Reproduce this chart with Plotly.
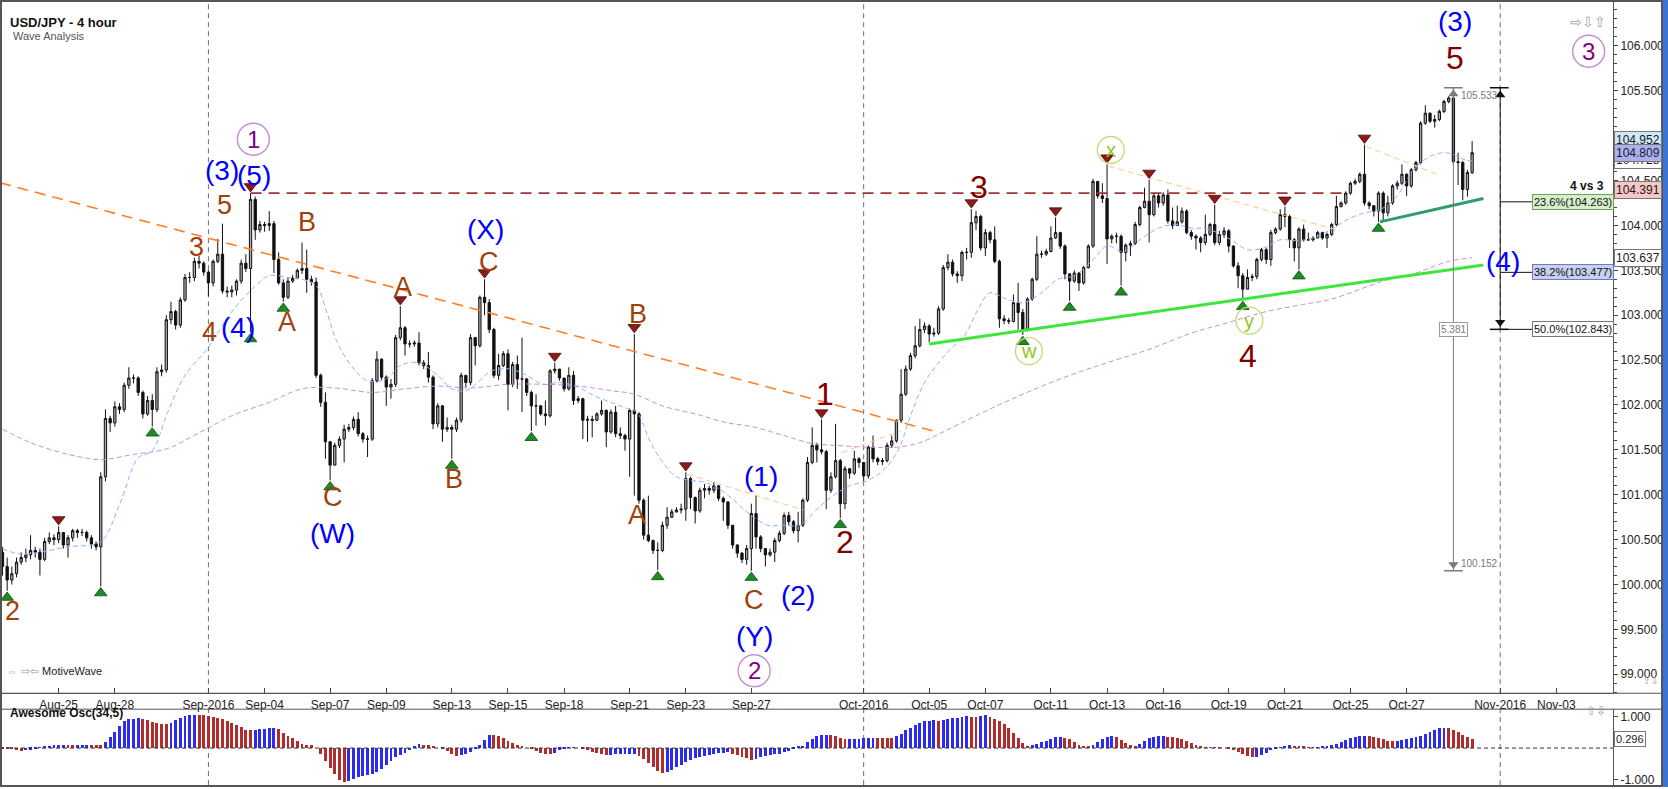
import numpy as np
import plotly.graph_objects as go

# ---------------- Daten (aus dem Chart abgelesen) ----------------
# 4h-Kerzen USD/JPY, Index 0 = 23. Aug 2016, Open = Close der Vorkerze
first_open = 100.36
close = [
    100.20, 100.05, 100.12, 100.25, 100.30, 100.33, 100.38, 100.36, 100.28, 100.48,
    100.52, 100.50, 100.58, 100.44, 100.52, 100.60, 100.58, 100.58, 100.52, 100.45,
    100.42, 101.20, 101.85, 101.80, 101.98, 101.95, 102.22, 102.30, 102.30, 102.14,
    101.90, 102.05, 101.95, 102.37, 102.39, 102.95, 103.04, 102.89, 103.17, 103.42,
    103.42, 103.60, 103.58, 103.48, 103.36, 103.60, 103.68, 103.27, 103.26, 103.28,
    103.38, 103.58, 103.52, 104.29, 103.95, 104.01, 104.00, 104.02, 103.62, 103.36,
    103.20, 103.38, 103.41, 103.50, 103.52, 103.40, 103.37, 102.33, 102.03, 101.59,
    101.33, 101.55, 101.62, 101.73, 101.75, 101.84, 101.68, 101.62, 101.62, 102.27,
    102.51, 102.31, 102.20, 102.23, 102.75, 102.86, 102.68, 102.68, 102.69, 102.47,
    102.44, 102.31, 101.79, 101.99, 101.73, 101.75, 101.73, 101.83, 102.33, 102.25,
    102.75, 102.66, 103.20, 103.14, 102.84, 102.33, 102.44, 102.57, 102.23, 102.45,
    102.29, 102.29, 102.14, 101.99, 101.99, 101.90, 101.88, 102.38, 102.40, 102.30,
    102.18, 102.33, 102.05, 102.07, 101.83, 101.84, 101.83, 101.90, 101.94, 101.70,
    101.92, 101.68, 101.66, 101.62, 101.94, 101.90, 100.94, 100.55, 100.49, 100.38,
    100.38, 100.66, 100.75, 100.81, 100.83, 100.84, 101.18, 100.97, 100.82, 101.05,
    101.07, 101.05, 101.10, 100.96, 100.92, 100.66, 100.44, 100.35, 100.28, 100.40,
    100.79, 100.53, 100.40, 100.33, 100.36, 100.49, 100.57, 100.77, 100.70, 100.60,
    100.66, 100.94, 101.36, 101.55, 101.50, 101.48, 101.05, 101.20, 101.38, 100.90,
    101.29, 101.24, 101.40, 101.36, 101.21, 101.53, 101.40, 101.37, 101.38, 101.55,
    101.60, 101.83, 102.12, 102.40, 102.55, 102.66, 102.84, 102.88, 102.79, 102.80,
    103.07, 103.53, 103.59, 103.46, 103.44, 103.70, 103.70, 104.03, 104.10, 103.75,
    103.92, 103.84, 103.60, 102.96, 102.94, 102.93, 103.14, 103.03, 102.84, 103.18,
    103.40, 103.68, 103.68, 103.71, 103.86, 103.92, 103.77, 103.46, 103.38, 103.47,
    103.36, 103.53, 103.77, 104.49, 104.33, 104.30, 103.85, 103.88, 103.88, 103.70,
    103.78, 103.80, 104.01, 104.20, 104.27, 104.12, 104.33, 104.25, 104.34, 104.05,
    104.00, 104.04, 104.16, 103.92, 103.88, 103.86, 103.81, 103.90, 104.01, 103.81,
    103.90, 103.94, 103.77, 103.55, 103.44, 103.29, 103.42, 103.43, 103.62, 103.73,
    103.62, 103.92, 103.96, 104.12, 104.10, 103.84, 103.75, 103.96, 103.84, 103.84,
    103.86, 103.92, 103.86, 103.90, 104.01, 104.21, 104.25, 104.36, 104.47, 104.49,
    104.57, 104.25, 104.22, 104.16, 104.36, 104.14, 104.25, 104.44, 104.47, 104.57,
    104.44, 104.62, 104.70, 105.14, 105.25, 105.16, 105.18, 105.27, 105.38, 105.42,
    104.71, 104.70, 104.40, 104.59, 104.81,
]
high = [
    100.42, 100.30, 100.20, 100.30, 100.36, 100.40, 100.55, 100.42, 100.40, 100.52,
    100.58, 100.56, 100.65, 100.58, 100.55, 100.62, 100.62, 100.62, 100.60, 100.55,
    100.48, 101.25, 101.95, 101.88, 102.04, 102.02, 102.25, 102.42, 102.34, 102.32,
    102.16, 102.10, 102.12, 102.42, 102.45, 103.00, 103.15, 103.06, 103.20, 103.46,
    103.48, 103.64, 103.66, 103.60, 103.50, 103.62, 103.85, 104.02, 103.32, 103.33,
    103.40, 103.62, 103.68, 104.36, 104.32, 104.05, 104.04, 104.16, 104.05, 103.70,
    103.40, 103.42, 103.45, 103.52, 103.81, 103.73, 103.44, 103.42, 102.35, 102.14,
    101.60, 101.58, 101.65, 101.78, 101.79, 101.87, 101.92, 101.70, 101.66, 102.30,
    102.60, 102.52, 102.33, 102.29, 102.78, 103.10, 102.88, 102.72, 102.72, 102.81,
    102.50, 102.59, 102.33, 102.02, 102.00, 101.86, 101.78, 101.86, 102.36, 102.33,
    102.79, 102.76, 103.22, 103.40, 103.18, 102.86, 102.57, 102.60, 102.62, 102.48,
    102.55, 102.75, 102.30, 102.16, 102.12, 102.00, 102.05, 102.40, 102.47, 102.40,
    102.30, 102.42, 102.38, 102.10, 102.08, 101.88, 101.88, 101.92, 102.05, 101.95,
    101.95, 101.99, 101.75, 101.68, 101.96, 102.79, 101.92, 100.96, 100.99, 100.50,
    100.47, 100.70, 100.86, 100.84, 100.86, 100.90, 101.25, 101.20, 100.98, 101.08,
    101.12, 101.10, 101.14, 101.10, 100.98, 100.93, 100.66, 100.45, 100.36, 100.44,
    100.90, 100.99, 100.55, 100.40, 100.40, 100.52, 100.60, 100.80, 100.81, 100.72,
    100.81, 100.96, 101.42, 101.75, 101.58, 101.84, 101.50, 101.25, 101.79, 101.40,
    101.32, 101.30, 101.49, 101.42, 101.36, 101.55, 101.66, 101.42, 101.41, 101.58,
    101.66, 101.84, 102.40, 102.44, 102.58, 102.88, 102.96, 102.92, 102.90, 102.86,
    103.10, 103.56, 103.68, 103.62, 103.49, 103.72, 103.75, 104.18, 104.16, 104.12,
    103.96, 103.94, 103.99, 103.62, 103.00, 102.97, 103.23, 103.36, 103.07, 103.20,
    103.42, 103.88, 103.72, 103.74, 103.99, 104.09, 103.93, 103.79, 103.47, 103.50,
    103.48, 103.55, 103.79, 104.52, 104.49, 104.47, 104.68, 103.90, 103.92, 103.90,
    103.80, 103.83, 104.04, 104.22, 104.42, 104.51, 104.36, 104.35, 104.37, 104.40,
    104.20, 104.22, 104.20, 104.18, 103.95, 103.90, 103.88, 104.12, 104.03, 104.23,
    103.94, 103.98, 103.96, 103.78, 103.59, 103.47, 103.51, 103.46, 103.64, 103.75,
    103.75, 103.95, 103.98, 104.18, 104.21, 104.12, 103.86, 103.98, 104.01, 103.92,
    103.88, 103.94, 103.93, 103.92, 104.03, 104.33, 104.27, 104.38, 104.49, 104.52,
    104.59, 104.90, 104.27, 104.22, 104.38, 104.38, 104.33, 104.46, 104.50, 104.68,
    104.58, 104.64, 104.72, 105.16, 105.34, 105.26, 105.23, 105.29, 105.40, 105.44,
    105.533, 104.81, 104.72, 104.62, 104.94,
]
low = [
    100.10, 99.93, 100.00, 100.08, 100.22, 100.25, 100.28, 100.30, 100.10, 100.26,
    100.45, 100.44, 100.46, 100.40, 100.30, 100.48, 100.52, 100.54, 100.48, 100.40,
    100.38, 99.98, 101.15, 101.70, 101.76, 101.90, 101.92, 102.18, 102.24, 102.10,
    101.85, 101.88, 101.76, 101.92, 102.32, 102.36, 102.90, 102.84, 102.86, 103.15,
    103.36, 103.38, 103.52, 103.44, 103.21, 103.32, 103.58, 103.24, 103.20, 103.20,
    103.22, 103.35, 103.48, 102.81, 103.84, 103.92, 103.93, 103.94, 103.47, 103.34,
    103.15, 103.18, 103.36, 103.40, 103.46, 103.25, 103.33, 102.30, 101.98, 101.40,
    101.16, 101.33, 101.52, 101.36, 101.70, 101.72, 101.65, 101.58, 101.42, 101.60,
    102.25, 102.28, 101.99, 102.07, 102.20, 102.72, 102.55, 102.64, 102.65, 102.44,
    102.40, 102.25, 101.73, 101.75, 101.59, 101.70, 101.40, 101.70, 101.80, 102.20,
    102.22, 102.44, 102.64, 103.00, 102.80, 102.30, 102.28, 102.42, 101.94, 102.20,
    102.18, 101.92, 102.10, 101.71, 101.77, 101.88, 101.77, 101.86, 102.35, 102.27,
    102.15, 102.16, 102.00, 102.02, 101.62, 101.59, 101.64, 101.82, 101.88, 101.53,
    101.68, 101.64, 101.62, 101.49, 101.20, 100.99, 100.90, 100.50, 100.47, 100.34,
    100.16, 100.36, 100.62, 100.74, 100.80, 100.79, 100.71, 100.84, 100.68, 100.80,
    100.96, 101.00, 101.02, 100.93, 100.71, 100.62, 100.40, 100.30, 100.24, 100.22,
    100.152, 100.40, 100.36, 100.20, 100.31, 100.25, 100.47, 100.55, 100.66, 100.57,
    100.47, 100.64, 100.92, 101.34, 101.36, 101.45, 100.84, 101.02, 101.18, 100.74,
    100.84, 101.18, 101.22, 101.30, 101.15, 101.18, 101.36, 101.33, 101.33, 101.36,
    101.52, 101.58, 101.80, 102.10, 102.38, 102.52, 102.64, 102.80, 102.70, 102.76,
    102.78, 103.05, 103.50, 103.43, 103.36, 103.38, 103.62, 103.64, 103.95, 103.72,
    103.66, 103.80, 103.58, 102.86, 102.90, 102.90, 102.92, 102.84, 102.78, 102.82,
    103.16, 103.38, 103.64, 103.66, 103.70, 103.85, 103.74, 103.40, 103.16, 103.36,
    103.27, 103.34, 103.52, 103.75, 104.30, 104.25, 103.57, 103.80, 103.80, 103.33,
    103.60, 103.66, 103.78, 103.99, 104.19, 103.81, 104.10, 104.20, 104.22, 104.02,
    103.96, 104.00, 104.02, 103.90, 103.84, 103.73, 103.70, 103.78, 103.88, 103.78,
    103.78, 103.86, 103.70, 103.53, 103.30, 103.17, 103.29, 103.38, 103.40, 103.60,
    103.57, 103.55, 103.90, 103.94, 103.98, 103.75, 103.60, 103.51, 103.82, 103.83,
    103.82, 103.86, 103.84, 103.75, 103.88, 103.99, 104.20, 104.23, 104.34, 104.45,
    104.47, 104.22, 104.18, 104.10, 104.04, 104.05, 104.10, 104.23, 104.40, 104.45,
    104.33, 104.42, 104.60, 104.68, 105.12, 105.14, 105.09, 105.16, 105.25, 105.36,
    104.68, 104.45, 104.28, 104.32, 104.57,
]

# Awesome Oscillator (34,5), Balkenwerte
ao = [
    -0.02, -0.03, -0.05, -0.07, -0.09, -0.08, -0.06, -0.02, 0.01, 0.04,
    0.07, 0.08, 0.09, 0.10, 0.098, 0.096, 0.10, 0.102, 0.104, 0.10,
    0.098, 0.096, 0.20, 0.35, 0.50, 0.68, 0.84, 0.90, 0.92, 0.93,
    0.91, 0.88, 0.82, 0.78, 0.76, 0.74, 0.79, 0.87, 0.95, 1.00,
    1.03, 1.05, 1.045, 1.03, 1.02, 0.99, 0.95, 0.90, 0.84, 0.79,
    0.73, 0.66, 0.58, 0.55, 0.58, 0.60, 0.61, 0.62, 0.64, 0.60,
    0.48, 0.38, 0.30, 0.22, 0.12, 0.10, 0.08, 0.00, -0.20, -0.42,
    -0.63, -0.84, -1.02, -1.07, -1.05, -1.00, -0.93, -0.88, -0.86, -0.84,
    -0.76, -0.66, -0.55, -0.43, -0.30, -0.22, -0.15, -0.08, 0.04, 0.11,
    0.10, 0.08, 0.04, 0.00, -0.05, -0.10, -0.18, -0.25, -0.23, -0.19,
    -0.12, -0.05, 0.10, 0.24, 0.41, 0.40, 0.37, 0.31, 0.23, 0.14,
    0.08, 0.03, 0.00, -0.05, -0.10, -0.16, -0.19, -0.21, -0.15, -0.06,
    -0.02, 0.01, 0.02, 0.00, -0.02, -0.06, -0.12, -0.17, -0.20, -0.22,
    -0.215, -0.21, -0.205, -0.20, -0.195, -0.19, -0.25, -0.36, -0.48, -0.60,
    -0.72, -0.80, -0.76, -0.70, -0.62, -0.54, -0.46, -0.39, -0.33, -0.29,
    -0.25, -0.22, -0.19, -0.17, -0.15, -0.14, -0.18, -0.24, -0.29, -0.33,
    -0.37, -0.34, -0.30, -0.27, -0.24, -0.21, -0.18, -0.14, -0.09, -0.04,
    0.03, 0.07, 0.17, 0.28, 0.37, 0.41, 0.42, 0.40, 0.36, 0.32,
    0.27, 0.275, 0.28, 0.285, 0.30, 0.31, 0.32, 0.315, 0.31, 0.305,
    0.30, 0.36, 0.45, 0.55, 0.64, 0.72, 0.79, 0.84, 0.86, 0.87,
    0.86, 0.89, 0.92, 0.94, 0.96, 0.98, 1.00, 0.99, 0.98, 1.01,
    1.03, 0.98, 0.92, 0.84, 0.74, 0.62, 0.48, 0.32, 0.15, 0.06,
    0.08, 0.12, 0.17, 0.23, 0.29, 0.34, 0.345, 0.32, 0.27, 0.20,
    0.10, 0.05, 0.04, 0.10, 0.20, 0.29, 0.35, 0.37, 0.33, 0.25,
    0.15, 0.08, 0.07, 0.12, 0.22, 0.30, 0.35, 0.37, 0.38, 0.35,
    0.33, 0.32, 0.29, 0.22, 0.16, 0.09, 0.04, 0.02, 0.01, 0.02,
    0.01, 0.00, -0.03, -0.08, -0.14, -0.20, -0.25, -0.30, -0.28, -0.22,
    -0.15, -0.08, -0.03, 0.02, 0.06, 0.08, 0.07, 0.05, 0.03, 0.01,
    0.01, 0.02, 0.03, 0.05, 0.08, 0.12, 0.18, 0.25, 0.31, 0.35,
    0.38, 0.39, 0.37, 0.33, 0.30, 0.27, 0.23, 0.21, 0.22, 0.25,
    0.27, 0.30, 0.33, 0.38, 0.44, 0.50, 0.57, 0.62, 0.63, 0.62,
    0.58, 0.51, 0.42, 0.34, 0.296,
]

blue_ma_x = [0, 4, 14, 21, 25, 29, 32, 35, 39, 43.5, 49, 53.5, 57, 61, 64, 67, 69.5, 71.5, 74.5, 78,
             82, 85, 89, 93, 96, 99, 101.5, 104.5, 108.5, 112, 115.5, 119, 123, 126.5, 130, 133, 135.5,
             138.5, 141.5, 144, 147, 150, 153, 156, 160, 163.5, 167, 170.5, 174, 177.5, 181, 185, 188.5,
             191.5, 194, 197, 200, 202.5, 205.5, 208.5, 211, 214.5, 218, 222, 225.5, 229, 232.5, 236,
             239.5, 243, 247, 250.5, 254, 257.5, 262.5, 266, 269.5, 273, 276.5, 280, 284, 287.5, 291,
             294.5, 298, 301.5, 305, 308, 310, 312.5, 314]
blue_ma_y = [100.40, 100.34, 100.42, 100.48, 100.89, 101.41, 101.49, 101.88, 102.33, 102.61,
             103.04, 103.30, 103.44, 103.42, 103.40, 103.33, 103.00, 102.70, 102.44, 102.27,
             102.29, 102.44, 102.47, 102.33, 102.18, 102.16, 102.25, 102.38, 102.40, 102.33,
             102.23, 102.25, 102.20, 102.10, 102.03, 101.97, 101.92, 101.58, 101.33, 101.20,
             101.16, 101.14, 101.07, 100.95, 100.77, 100.66, 100.66, 100.66, 100.84, 100.99,
             101.10, 101.16, 101.29, 101.51, 101.88, 102.25, 102.47, 102.62, 102.77, 103.07,
             103.25, 103.18, 103.14, 103.25, 103.40, 103.44, 103.59, 103.77, 103.71, 103.84,
             103.97, 104.01, 103.97, 103.96, 103.84, 103.73, 103.75, 103.84, 103.83, 103.86,
             103.96, 104.07, 104.14, 104.18, 104.33, 104.62, 104.77, 104.81, 104.79, 104.73,
             104.72]
purple_ma_x = [0, 6, 14, 21, 24, 28, 35, 42, 49, 57, 64, 71, 79, 86, 93, 100, 108, 116, 123, 130,
               135, 141, 148, 155, 160, 167, 173, 178, 185, 191, 196, 201, 208, 218, 228, 236, 245,
               254, 262, 270, 278, 284, 295, 302, 309, 314]
purple_ma_y = [101.73, 101.58, 101.45, 101.39, 101.41, 101.45, 101.51, 101.69, 101.88, 102.03,
               102.18, 102.19, 102.14, 102.18, 102.21, 102.19, 102.23, 102.23, 102.21, 102.16,
               102.12, 101.99, 101.90, 101.80, 101.76, 101.66, 101.57, 101.55, 101.53, 101.53,
               101.58, 101.70, 101.88, 102.12, 102.33, 102.47, 102.62, 102.80, 102.92, 103.04,
               103.12, 103.18, 103.38, 103.47, 103.60, 103.64]

# Achsenbeschriftung (Kerzenindex -> Datum)
tick_idx = [12, 24, 44, 56, 70, 82, 96, 108, 120, 134, 146, 160, 184, 198, 210, 224, 236, 248,
            262, 274, 288, 300, 320, 332]
tick_text = ['Aug-25', 'Aug-28', 'Sep-2016', 'Sep-04', 'Sep-07', 'Sep-09', 'Sep-13', 'Sep-15',
             'Sep-18', 'Sep-21', 'Sep-23', 'Sep-27', 'Oct-2016', 'Oct-05', 'Oct-07', 'Oct-11',
             'Oct-13', 'Oct-16', 'Oct-19', 'Oct-21', 'Oct-25', 'Oct-27', 'Nov-2016', 'Nov-03']
month_idx = [44, 184, 320]

# Swing-Markierungen
pivot_low_idx = [1, 21, 32, 53, 60, 70, 96, 113, 140, 160, 179, 218, 228, 239, 265, 277, 294]
pivot_high_idx = [12, 53, 85, 103, 118, 135, 146, 175, 207, 225, 236, 245, 259, 274, 291]

# Trendlinien
orange_x, orange_y = [-0.53, 198.9], [104.475, 101.71]
green_x, green_y = [198.0, 316.4], [102.68, 103.56]
teal_x, teal_y = [294.3, 316.4], [104.04, 104.30]
peach_lines = [([146.3, 171.1], [101.23, 100.83]),
               ([179.3, 191.8], [101.47, 101.71]),
               ([236.3, 285.8], [104.66, 103.94]),
               ([291.3, 306.5], [104.88, 104.57])]
resist_start, resist_end = 53, 286.7

# Fibonacci / Messung
swing_top_idx, swing_bottom_idx = 310, 160
fib_x = 320
fib_ratios = [0.236, 0.382, 0.5]

# Wellen-Beschriftungen (Text, Index, Preis, Stil)
wave_labels = [
    ('2', 2.1, 99.70, 'brown'), ('3', 41.5, 103.76, 'brown'), ('5', 47.5, 104.23, 'brown'),
    ('4', 44.3, 102.81, 'brown'), ('(4)', 50.4, 102.86, 'blue'), ('(3)', 47.0, 104.61, 'blue'),
    ('(5)', 53.8, 104.56, 'blue'), ('B', 65.0, 104.04, 'brown'), ('A', 60.7, 102.92, 'brown'),
    ('C', 70.6, 100.97, 'brown'), ('(W)', 70.6, 100.57, 'blue'), ('A', 85.5, 103.31, 'brown'),
    ('B', 96.4, 101.18, 'brown'), ('(X)', 103.2, 103.96, 'blue'), ('C', 103.9, 103.59, 'brown'),
    ('B', 135.7, 103.01, 'brown'), ('A', 135.6, 100.77, 'brown'), ('(1)', 162.0, 101.20, 'blue'),
    ('C', 160.6, 99.83, 'brown'), ('(2)', 170.0, 99.88, 'blue'), ('(Y)', 160.6, 99.42, 'blue'),
    ('1', 175.7, 102.12, 'maroon'), ('2', 180.0, 100.47, 'maroon'), ('3', 208.6, 104.43, 'maroon'),
    ('4', 266.1, 102.55, 'maroon'), ('5', 310.3, 105.86, 'maroon'), ('(3)', 310.3, 106.27, 'blue'),
    ('(4)', 320.7, 103.60, 'blue'),
]
circled_labels = [('1', 53.6, 104.96, 'purple'), ('2', 160.6, 99.04, 'purple'),
                  ('3', 338.9, 105.94, 'purple'), ('w', 219.3, 102.60, 'green'),
                  ('x', 236.8, 104.84, 'green'), ('y', 266.4, 102.94, 'green')]

# Preis-Marken an der rechten Achse
tag_values = [104.728, 104.952, 104.809, 104.391, 103.637]
tag_fill = ['#FFFFFF', '#CFE8F7', '#AAB0F2', '#F7C6C6', '#FFFFFF']

# ---------------- Aufbereitung ----------------
W, H = 1668, 789
PLOT_W = 1613
x = np.arange(len(close))
close_a = np.array(close)
open_a = np.concatenate([[first_open], close_a[:-1]])
high_a = np.maximum.reduce([np.array(high), open_a, close_a])
low_a = np.minimum.reduce([np.array(low), open_a, close_a])

ao_a = np.array(ao)
ao_diff = np.diff(ao_a, prepend=ao_a[0] + 0.01)
ao_colors = np.where(ao_diff >= 0, '#2B2BF2', '#B22C2C')

top_price = high_a[swing_top_idx]
bottom_price = low_a[swing_bottom_idx]
fib_levels = [top_price - r * (top_price - bottom_price) for r in fib_ratios]


def py(pix):  # Pixel von oben -> paper y
    return 1 - pix / H


def px(pix):  # Pixel von links -> paper x
    return pix / PLOT_W


fig = go.Figure()

# Kerzen
fig.add_trace(go.Candlestick(
    x=x, open=open_a, high=high_a, low=low_a, close=close_a,
    increasing=dict(line=dict(color='#111111', width=1), fillcolor='#A8A8A8'),
    decreasing=dict(line=dict(color='#111111', width=1), fillcolor='#111111'),
    whiskerwidth=0, showlegend=False, hoverinfo='skip'))

# gleitende Durchschnitte
fig.add_trace(go.Scatter(x=blue_ma_x, y=blue_ma_y, mode='lines',
                         line=dict(color='#8FB3F5', width=1, dash='5px,3px', shape='spline'),
                         showlegend=False, hoverinfo='skip'))
fig.add_trace(go.Scatter(x=purple_ma_x, y=purple_ma_y, mode='lines',
                         line=dict(color='#CC8FD6', width=1, dash='5px,3px', shape='spline'),
                         showlegend=False, hoverinfo='skip'))

# Trendlinien
fig.add_trace(go.Scatter(x=orange_x, y=orange_y, mode='lines',
                         line=dict(color='#FF7F27', width=1.6, dash='11px,7px'),
                         showlegend=False, hoverinfo='skip'))
for lx, ly in peach_lines:
    fig.add_trace(go.Scatter(x=lx, y=ly, mode='lines',
                             line=dict(color='#FFC58A', width=1, dash='6px,4px'),
                             showlegend=False, hoverinfo='skip'))
fig.add_trace(go.Scatter(x=[resist_start, resist_end], y=[high_a[resist_start]] * 2, mode='lines',
                         line=dict(color='#A33333', width=1.6, dash='11px,7px'),
                         showlegend=False, hoverinfo='skip'))
fig.add_trace(go.Scatter(x=green_x, y=green_y, mode='lines',
                         line=dict(color='#3CE63C', width=3), showlegend=False, hoverinfo='skip'))
fig.add_trace(go.Scatter(x=teal_x, y=teal_y, mode='lines',
                         line=dict(color='#2E9D6B', width=3), showlegend=False, hoverinfo='skip'))

# Swing-Dreiecke
fig.add_trace(go.Scatter(x=pivot_low_idx, y=low_a[pivot_low_idx] - 0.075, mode='markers',
                         marker=dict(symbol='triangle-up', size=11, color='#1F8B24',
                                     line=dict(color='#0B4D0E', width=0.8)),
                         showlegend=False, hoverinfo='skip'))
fig.add_trace(go.Scatter(x=pivot_high_idx, y=high_a[pivot_high_idx] + 0.075, mode='markers',
                         marker=dict(symbol='triangle-down', size=11, color='#8B1A1A',
                                     line=dict(color='#4D0B0B', width=0.8)),
                         showlegend=False, hoverinfo='skip'))

# Messlinie (Hoch -> Tief)
gray = '#7A7A7A'
fig.add_trace(go.Scatter(x=[swing_top_idx, swing_top_idx], y=[bottom_price, top_price], mode='lines',
                         line=dict(color=gray, width=1), showlegend=False, hoverinfo='skip'))
for lvl in [top_price, bottom_price]:
    fig.add_trace(go.Scatter(x=[swing_top_idx - 2, swing_top_idx + 2], y=[lvl, lvl], mode='lines',
                             line=dict(color=gray, width=1.5), showlegend=False, hoverinfo='skip'))
fig.add_trace(go.Scatter(x=[swing_top_idx, swing_top_idx], y=[top_price - 0.07, bottom_price + 0.07],
                         mode='markers', marker=dict(symbol=['triangle-up', 'triangle-down'], size=9,
                                                     color=gray),
                         showlegend=False, hoverinfo='skip'))

# Fibonacci-Werkzeug
fig.add_trace(go.Scatter(x=[fib_x, fib_x], y=[fib_levels[-1], top_price], mode='lines',
                         line=dict(color='#111111', width=1), showlegend=False, hoverinfo='skip'))
for lvl in [top_price, fib_levels[-1]]:
    fig.add_trace(go.Scatter(x=[fib_x - 2.2, fib_x + 1.8], y=[lvl, lvl], mode='lines',
                             line=dict(color='#111111', width=1.5), showlegend=False, hoverinfo='skip'))
for lvl in fib_levels:
    fig.add_trace(go.Scatter(x=[fib_x, fib_x + 6.8], y=[lvl, lvl], mode='lines',
                             line=dict(color='#111111', width=1), showlegend=False, hoverinfo='skip'))
fig.add_trace(go.Scatter(x=[fib_x, fib_x], y=[top_price - 0.08, fib_levels[-1] + 0.08], mode='markers',
                         marker=dict(symbol=['triangle-up', 'triangle-down'], size=9, color='#111111'),
                         showlegend=False, hoverinfo='skip'))

# Kreise der eingekreisten Wellen
circ_style = {'purple': dict(size=32, line='#C58ED0', text='#800080', font=24),
              'green': dict(size=27, line='#C3DE7A', text='#95C51A', font=20)}
for txt, cx, cy, st in circled_labels:
    s = circ_style[st]
    fig.add_trace(go.Scatter(x=[cx], y=[cy], mode='markers',
                             marker=dict(symbol='circle-open', size=s['size'],
                                         line=dict(color=s['line'], width=1.4), color=s['line']),
                             showlegend=False, hoverinfo='skip'))

# Awesome Oscillator
fig.add_trace(go.Bar(x=x, y=ao_a, marker=dict(color=ao_colors, line=dict(width=0)), width=0.62,
                     xaxis='x2', yaxis='y2', showlegend=False, hoverinfo='skip'))

# ---------------- Beschriftungen ----------------
ann = []
wave_style = {'brown': ('#A0410A', 27), 'maroon': ('#800000', 32), 'blue': ('#0000FF', 28)}
for txt, lx, ly, st in wave_labels:
    col, size = wave_style[st]
    ann.append(dict(x=lx, y=ly, xref='x', yref='y', text=txt, showarrow=False,
                    font=dict(color=col, size=size)))
for txt, cx, cy, st in circled_labels:
    s = circ_style[st]
    ann.append(dict(x=cx, y=cy, xref='x', yref='y', text=txt, showarrow=False,
                    font=dict(color=s['text'], size=s['font'])))

# Messwerte
ann.append(dict(x=swing_top_idx + 1.2, y=top_price - 0.09, xref='x', yref='y', xanchor='left',
                text=f'{top_price:.3f}', showarrow=False, font=dict(color=gray, size=10)))
ann.append(dict(x=swing_top_idx + 1.2, y=bottom_price + 0.08, xref='x', yref='y', xanchor='left',
                text=f'{bottom_price:.3f}', showarrow=False, font=dict(color=gray, size=10)))
ann.append(dict(x=swing_top_idx, y=fib_levels[-1], xref='x', yref='y',
                text=f'{top_price - bottom_price:.3f}', showarrow=False, bgcolor='#FFFFFF',
                bordercolor='#9A9A9A', borderwidth=1, borderpad=1, font=dict(color=gray, size=10)))

# Fibonacci-Boxen
fib_fill = ['#D5EFCB', '#C7CFF2', '#FFFFFF']
fib_edge = ['#6AA84F', '#6C7BC4', '#777777']
for r, lvl, fc, ec in zip(fib_ratios, fib_levels, fib_fill, fib_edge):
    ann.append(dict(x=fib_x + 6.8, y=lvl, xref='x', yref='y', xanchor='left',
                    text=f'{r * 100:.1f}%({lvl:.3f})', showarrow=False, bgcolor=fc, bordercolor=ec,
                    borderwidth=1, borderpad=1, font=dict(color='#111111', size=11)))
ann.append(dict(x=px(1606), y=104.44, xref='paper', yref='y', xanchor='right', text='<b>4 vs 3</b>',
                showarrow=False, font=dict(color='#111111', size=12)))

# Preis-Marken
for v, fc in zip(tag_values, tag_fill):
    ann.append(dict(x=1.0, y=v, xref='paper', yref='y', xanchor='left', xshift=1,
                    text=f'{v:.3f}', showarrow=False, bgcolor=fc, bordercolor='#777777',
                    borderwidth=1, borderpad=1, font=dict(color='#1A1A1A', size=12)))
ann.append(dict(x=1.0, y=ao_a[-1], xref='paper', yref='y2', xanchor='left', xshift=1,
                text=f'{ao_a[-1]:.3f}', showarrow=False, bgcolor='#FFFFFF', bordercolor='#777777',
                borderwidth=1, borderpad=1, font=dict(color='#1A1A1A', size=11)))

# Texte
ann += [
    dict(x=px(8), y=py(13), xref='paper', yref='paper', xanchor='left', text='<b>USD/JPY - 4 hour</b>',
         showarrow=False, font=dict(size=13, color='#111111')),
    dict(x=px(11), y=py(28), xref='paper', yref='paper', xanchor='left', text='Wave Analysis',
         showarrow=False, font=dict(size=11, color='#555555')),
    dict(x=px(5), y=py(681), xref='paper', yref='paper', xanchor='left',
         text='<span style="color:#9A9A9A">⇔ ⇨⇦</span> MotiveWave', showarrow=False,
         font=dict(size=11, color='#222222')),
    dict(x=px(8), y=py(724), xref='paper', yref='paper', xanchor='left', text='<b>Awesome Osc(34,5)</b>',
         showarrow=False, font=dict(size=12, color='#111111')),
    dict(x=px(1608), y=py(12), xref='paper', yref='paper', xanchor='right', text='⇨⇩⇧',
         showarrow=False, font=dict(size=14, color='#A0A0A0')),
    dict(x=px(1661), y=py(690), xref='paper', yref='paper', xanchor='right', text='⇧⇩',
         showarrow=False, font=dict(size=9, color='#A0A0A0')),
    dict(x=px(1608), y=py(722), xref='paper', yref='paper', xanchor='right', text='⇧⇩',
         showarrow=False, font=dict(size=12, color='#A0A0A0')),
]

# ---------------- Formen ----------------
shapes = []
for m in month_idx:
    for yr in ['y domain', 'y2 domain']:
        shapes.append(dict(type='line', xref='x', yref=yr, x0=m, x1=m, y0=0, y1=1,
                           line=dict(color='#6E6E6E', width=1, dash='5px,4px'), layer='below'))
shapes.append(dict(type='line', xref='paper', yref='y2', x0=0, x1=1, y0=0, y1=0,
                   line=dict(color='#333333', width=1, dash='4px,3px')))
for ypix in [695, 711]:
    shapes.append(dict(type='line', xref='paper', yref='paper', x0=0, x1=px(1662), y0=py(ypix),
                       y1=py(ypix), line=dict(color='#555555', width=1)))
shapes.append(dict(type='rect', xref='paper', yref='paper', x0=px(1662), x1=px(1668), y0=0, y1=1,
                   fillcolor='#3C74D6', line=dict(width=0)))
shapes.append(dict(type='rect', xref='paper', yref='paper', x0=px(1), x1=px(1662), y0=py(788),
                   y1=py(1), line=dict(color='#555555', width=2)))

fig.update_layout(
    width=W, height=H,
    margin=dict(l=0, r=W - PLOT_W, t=0, b=0),
    paper_bgcolor='white', plot_bgcolor='white',
    font=dict(family='Liberation Sans, Arial, sans-serif', color='#222222'),
    showlegend=False,
    bargap=0,
    xaxis=dict(domain=[0, 1], anchor='y', range=[-0.53, 344.1], tickmode='array', tickvals=tick_idx,
               ticktext=tick_text, ticks='inside', ticklen=5, tickcolor='#444444',
               tickfont=dict(size=12, color='#222222'), showline=True, linecolor='#555555',
               showgrid=False, zeroline=False, rangeslider=dict(visible=False)),
    yaxis=dict(domain=[py(695), py(2)], anchor='x', side='right', range=[98.789, 106.489],
               tick0=99, dtick=0.5, tickformat='.3f', ticks='outside', ticklen=4, tickcolor='#444444',
               minor=dict(dtick=0.1, ticks='outside', ticklen=3, tickcolor='#444444'),
               tickfont=dict(size=12, color='#222222'), showline=True, linecolor='#555555',
               showgrid=False, zeroline=False),
    xaxis2=dict(domain=[0, 1], anchor='y2', matches='x', showticklabels=False, ticks='',
                showline=False, showgrid=False, zeroline=False),
    yaxis2=dict(domain=[py(787), py(711)], anchor='x2', side='right', range=[-1.17, 1.23],
                tickmode='array', tickvals=[1, -1], ticktext=['1.000', '-1.000'], ticks='outside',
                ticklen=4, tickcolor='#444444', tickfont=dict(size=12, color='#222222'),
                showline=True, linecolor='#555555', showgrid=False, zeroline=False),
    annotations=ann,
    shapes=shapes,
)

# Seitenrand der HTML-Seite entfernen, Modebar ausblenden
fig.write_html("out.html", config={'displayModeBar': False},
               post_script="document.body.style.margin='0';document.body.style.overflow='hidden';")
